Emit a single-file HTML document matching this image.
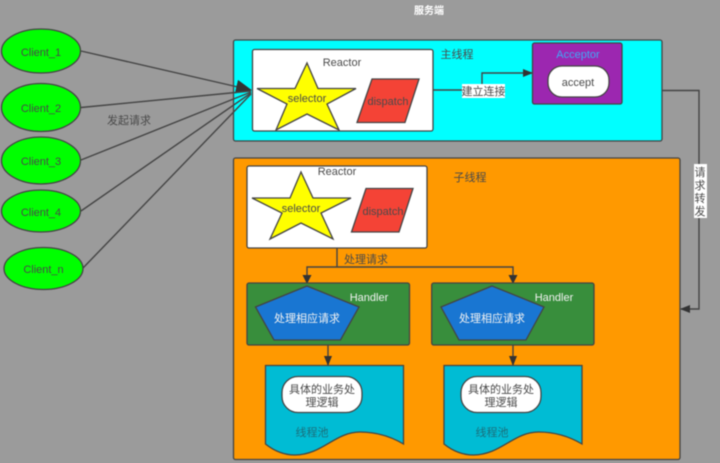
<!DOCTYPE html>
<html>
<head>
<meta charset="utf-8">
<style>
html,body{margin:0;padding:0;background:#9b9b9b;width:720px;height:463px;overflow:hidden}
svg{display:block;filter:blur(0.5px)}
text{font-family:"Liberation Sans","Noto Sans CJK SC",sans-serif;font-size:11px;text-anchor:middle;fill:#4a4a4a}
.s{stroke:#444;stroke-width:1.3}
.l{stroke:#444;stroke-width:1.4;fill:none}
</style>
</head>
<body>
<svg width="720" height="463" viewBox="0 0 720 463" xmlns="http://www.w3.org/2000/svg">
<defs>
<marker id="a" markerWidth="10" markerHeight="8" refX="9" refY="4" orient="auto" markerUnits="userSpaceOnUse"><path d="M0 0L10 4L0 8Z" fill="#333"/></marker>
<marker id="b" markerWidth="16" markerHeight="14" refX="15" refY="7" orient="auto" markerUnits="userSpaceOnUse"><path d="M0 0L16 7L0 14Z" fill="#333"/></marker>
</defs>
<rect width="720" height="463" fill="#9b9b9b"/>
<text x="429" y="14" style="font-size:10px;font-weight:bold;fill:#fff">服务端</text>

<rect x="233.5" y="40" width="428.5" height="101" rx="2" fill="#00ffff" class="s"/>
<rect x="233.5" y="158" width="446.5" height="301.5" rx="2" fill="#ff9900" class="s"/>

<path class="l" d="M81 51L251 90" marker-end="url(#b)"/>
<path class="l" d="M81 107.5L251 91"/>
<path class="l" d="M81 160L251 92"/>
<path class="l" d="M81 211L251 93"/>
<path class="l" d="M83 268L251 94"/>
<ellipse cx="41" cy="51" rx="39.5" ry="22" fill="#00ff00" class="s"/>
<ellipse cx="41" cy="107.5" rx="39.5" ry="24" fill="#00ff00" class="s"/>
<ellipse cx="41" cy="160.5" rx="39.5" ry="23.5" fill="#00ff00" class="s"/>
<ellipse cx="41" cy="211" rx="39.5" ry="21" fill="#00ff00" class="s"/>
<ellipse cx="43.5" cy="268.5" rx="39.5" ry="21" fill="#00ff00" class="s"/>
<text x="41" y="56">Client_1</text>
<text x="41" y="112">Client_2</text>
<text x="41" y="165">Client_3</text>
<text x="41" y="216">Client_4</text>
<text x="43.5" y="273">Client_n</text>
<text x="129" y="124">发起请求</text>

<rect x="252.5" y="49.5" width="180.5" height="81.5" rx="2" fill="#fff" class="s"/>
<path d="M307 63L318 88.5H356L327 104L339 130L307 114L276 130L287 104L257 88.5H295Z" fill="#ffff00" class="s"/>
<path d="M372 79H419L405 122.5H357Z" fill="#f44336" class="s"/>
<text x="342" y="66">Reactor</text>
<text x="307" y="102">selector</text>
<text x="388" y="105">dispatch</text>
<text x="457" y="58">主线程</text>

<path class="l" d="M433 90H482V73H532" marker-end="url(#a)"/>
<rect x="462" y="84" width="43" height="14" fill="#fff"/>
<text x="483.5" y="95">建立连接</text>

<rect x="532.5" y="43" width="89.5" height="61" rx="2" fill="#9c27b0" class="s"/>
<rect x="548" y="66" width="61" height="31" rx="14" fill="#fff" class="s"/>
<text x="578" y="58" style="fill:#3fa9f5">Acceptor</text>
<text x="578" y="86">accept</text>

<path class="l" d="M662 90.5H699V309H681" marker-end="url(#a)"/>
<rect x="694" y="164" width="13" height="54" fill="#fff"/>
<text x="700" y="176">请</text>
<text x="700" y="189">求</text>
<text x="700" y="202">转</text>
<text x="700" y="215">发</text>

<rect x="247" y="166" width="180" height="82" rx="2" fill="#fff" class="s"/>
<path d="M301 172L313 198H351L321 213L333 239L301 223L270 239L282 213L252 198H290Z" fill="#ffff00" class="s"/>
<path d="M366 188.5H413L399 232H351.5Z" fill="#f44336" class="s"/>
<text x="337" y="175">Reactor</text>
<text x="301" y="212">selector</text>
<text x="383" y="215">dispatch</text>
<text x="470" y="181">子线程</text>

<path class="l" d="M337 248V267"/>
<path class="l" d="M307 284V267H513V284"/>
<path d="M302.500 275L307 284L311.500 275Z" fill="#333"/>
<path d="M508.500 275L513 284L517.500 275Z" fill="#333"/>
<text x="366" y="263">处理请求</text>

<rect x="247" y="283" width="162.500" height="62" rx="2" fill="#388e3c" class="s"/>
<rect x="431.700" y="283" width="162.300" height="62" rx="2" fill="#388e3c" class="s"/>
<path d="M307 286L359 307L340.500 340H274L255.500 307Z" fill="#1976d2" class="s"/>
<path d="M492 286L544 307L526 340H459L441 307Z" fill="#1976d2" class="s"/>
<text x="369" y="301" style="fill:#f2f2f2">Handler</text>
<text x="554" y="301" style="fill:#f2f2f2">Handler</text>
<text x="307" y="322" style="fill:#f2f2f2">处理相应请求</text>
<text x="492" y="322" style="fill:#f2f2f2">处理相应请求</text>

<path class="l" d="M328 345V365" marker-end="url(#a)"/>
<path class="l" d="M513 345V365" marker-end="url(#a)"/>

<path d="M265.500 365.500H403.500V444C390 436 375 432 360 432C335 432 322 455 295 455C283 455 273 450 265.500 444Z" fill="#00bcd4" class="s"/>
<path d="M444 365.500H582V444C568.500 436 553.500 432 538.500 432C513.500 432 500.500 455 473.500 455C461.500 455 451.500 450 444 444Z" fill="#00bcd4" class="s"/>
<rect x="282" y="376.500" width="80" height="36" rx="16" fill="#fff" class="s"/>
<rect x="461" y="376.500" width="80" height="36" rx="16" fill="#fff" class="s"/>
<text x="322" y="393">具体的业务处</text>
<text x="322" y="406">理逻辑</text>
<text x="501" y="393">具体的业务处</text>
<text x="501" y="406">理逻辑</text>
<text x="312" y="436" style="fill:#1b6f7c">线程池</text>
<text x="492" y="436" style="fill:#1b6f7c">线程池</text>
</svg>
</body>
</html>
